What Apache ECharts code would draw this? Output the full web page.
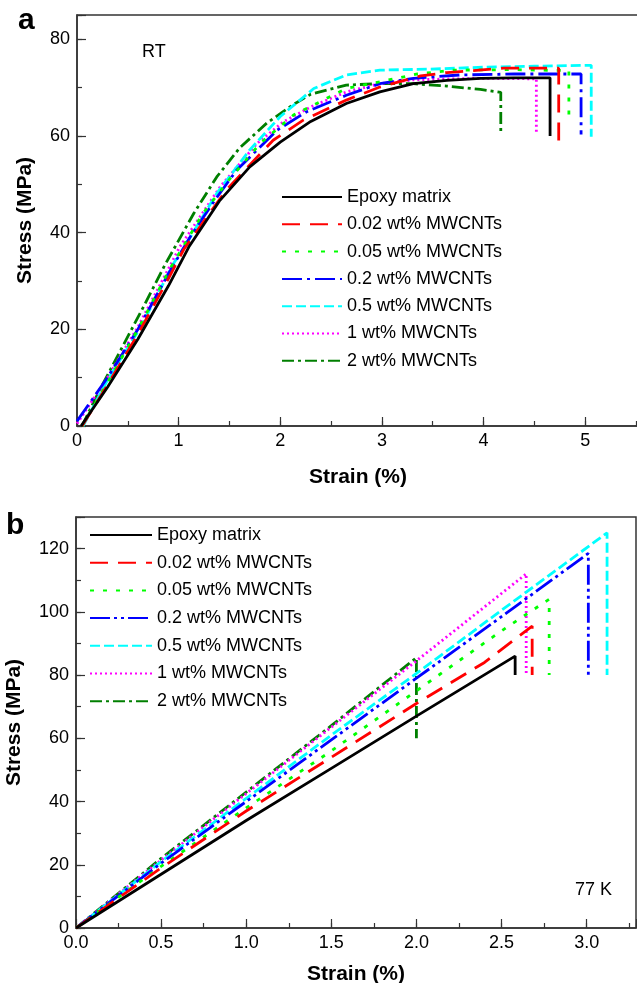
<!DOCTYPE html>
<html>
<head>
<meta charset="utf-8">
<script src="https://cdn.jsdelivr.net/npm/echarts@6/dist/echarts.min.js"></script>
<style>html,body{margin:0;padding:0;background:#fff}#c{width:637px;height:983px}</style>
</head>
<body>
<div id="c"></div>
<script>
// ---------- Data (strain %, stress MPa) ----------
const seriesNames = ['Epoxy matrix','0.02 wt% MWCNTs','0.05 wt% MWCNTs','0.2 wt% MWCNTs','0.5 wt% MWCNTs','1 wt% MWCNTs','2 wt% MWCNTs'];

// Panel a: room temperature
const rtEpoxy = [[0.04,0],[0.3,8],[0.6,18],[0.9,29],[1.1,37],[1.4,46.5],[1.7,53.6],[2.0,58.7],[2.3,63],[2.65,66.7],[2.98,69.1],[3.31,70.8],[3.64,71.5],[3.97,71.9],[4.3,72],[4.655,72],[4.655,60]];
const rt002 = [[0.05,0],[0.3,8.5],[0.6,19],[0.9,30.5],[1.05,36.5],[1.28,43.3],[1.47,48.8],[1.7,54],[1.93,59.1],[2.23,63.3],[2.65,67.4],[2.98,70.1],[3.38,72.4],[3.64,73.1],[4.2,74],[4.74,74],[4.74,58.4]];
const rt005 = [[0.05,0],[0.3,9],[0.6,20],[0.9,32],[1.24,44],[1.5,51],[1.8,58.4],[2.13,64.3],[2.65,69.8],[2.98,71.2],[3.35,72.8],[3.71,73.6],[4.3,73.7],[4.84,73.5],[4.84,62.6]];
const rt02 = [[0,1],[0.3,10],[0.6,20],[0.9,31.5],[1.11,39],[1.35,46.5],[1.57,52.9],[1.97,61.2],[2.26,65],[2.65,68.4],[2.98,70.8],[3.31,71.9],[3.77,72.6],[4.3,72.8],[4.96,72.8],[4.96,60.3]];
const rt05 = [[0.06,0],[0.3,9.5],[0.62,20.2],[0.95,33.6],[1.05,36.8],[1.375,48.1],[1.7,57.1],[2.0,64],[2.33,69.8],[2.65,72.6],[2.98,73.6],[3.47,73.8],[4.0,74.2],[4.5,74.4],[5.06,74.6],[5.06,59.8]];
const rt1 = [[0,0.5],[0.3,10],[0.6,20.5],[0.9,32.5],[1.01,37],[1.41,49.5],[1.77,58.4],[2.03,62.9],[2.3,66],[2.65,69.1],[2.98,70.8],[3.31,71.6],[3.97,71.9],[4.52,71.8],[4.52,60.8]];
const rt2 = [[0.05,0],[0.2,6.5],[0.4,14.5],[0.65,24.5],[0.87,33.5],[1.15,44],[1.375,51.5],[1.6,57.5],[1.87,62.7],[2.13,66.5],[2.3,68.6],[2.65,70.5],[2.98,70.8],[3.31,70.8],[3.64,70.3],[3.97,69.6],[4.17,69],[4.17,60.5]];

// Panel b: 77 K
const cEpoxy = [[0,0],[0.5,17],[1.0,34],[1.5,50.5],[2.0,67],[2.58,86],[2.58,80]];
const c002 = [[0,0],[0.5,19],[1.0,37],[1.5,54],[2.0,71],[2.4,84],[2.68,95.5],[2.68,80]];
const c005 = [[0,0],[0.5,19.5],[1.0,38],[1.5,56],[2.0,75],[2.5,94],[2.78,104],[2.78,80]];
const c02 = [[0,0],[0.5,20.5],[1.0,40],[1.5,59.5],[2.0,79],[2.5,98.5],[3.01,118.5],[3.01,80]];
const c05 = [[0,0],[0.5,21],[1.0,41],[1.5,61],[2.0,80.5],[2.5,100.5],[3.12,125],[3.12,80]];
const c1 = [[0,0],[0.5,21.5],[1.0,42.5],[1.5,63.5],[2.0,84.5],[2.645,112],[2.645,80]];
const c2 = [[0,0],[0.5,22],[1.0,43],[1.5,64],[2.0,85.5],[2.0,60]];

const rtData = [rtEpoxy, rt002, rt005, rt02, rt05, rt1, rt2];
const cryoData = [cEpoxy, c002, c005, c02, c05, c1, c2];

// Tick labels
const xTicksA = ['0','1','2','3','4','5'];
const yTicksA = [0,20,40,60,80];
const xTicksB = ['0.0','0.5','1.0','1.5','2.0','2.5','3.0'];
const yTicksB = [0,20,40,60,80,100,120];

// ---------- Styles ----------
const colors = ['#000000','#ff0000','#00ff00','#0000ff','#00ffff','#ff00ff','#007f00'];
const dashA = ['solid',[18,10],[4,9],[20,5,3,5],[10,4],[2,3],[12,4,3,4]];
const dashB = ['solid',[18,10],[4,9],[20,4,3,4,3,4],[10,4],[2,3],[12,4,3,4]];
const FONT = '"Liberation Sans", Arial, sans-serif';
const AX = '#333';

function mkSeries(dataArr, dashes, prefix, gi) {
  return dataArr.map((d, i) => ({
    name: prefix + seriesNames[i],
    type: 'line',
    xAxisIndex: gi * 2,
    yAxisIndex: gi * 2,
    data: d,
    showSymbol: false,
    symbol: 'none',
    animation: false,
    z: 10 - i,
    lineStyle: { color: colors[i], width: 2.8, type: dashes[i], cap: 'butt' },
    itemStyle: { color: colors[i] }
  }));
}

function mainX(gi, max, interval, ticks, name, nameGap) {
  return {
    gridIndex: gi, type: 'value', position: 'bottom', min: 0, max: max, interval: interval,
    axisLine: { show: true, lineStyle: { color: AX, width: 1.5 } },
    axisTick: { show: true, inside: true, length: 9, lineStyle: { color: AX, width: 1.2 } },
    axisLabel: { show: true, margin: 6, color: '#000', fontSize: 18, fontFamily: FONT,
      formatter: v => { const s = (gi === 1 ? v.toFixed(1) : String(Math.round(v))); return ticks.includes(s) && Math.abs(v - parseFloat(s)) < 1e-6 ? s : ''; } },
    splitLine: { show: false },
    name: name, nameLocation: 'middle', nameGap: nameGap,
    nameTextStyle: { fontSize: 21, fontWeight: 'bold', fontFamily: FONT, color: '#000' }
  };
}
function minorX(gi, max, interval) {
  return {
    gridIndex: gi, type: 'value', position: 'bottom', min: 0, max: max, interval: interval,
    axisLine: { show: false }, axisLabel: { show: false }, splitLine: { show: false },
    axisTick: { show: true, inside: true, length: 5, lineStyle: { color: AX, width: 1.2 } }
  };
}
function mainY(gi, max, interval, ticks, name, nameGap) {
  return {
    gridIndex: gi, type: 'value', position: 'left', min: 0, max: max, interval: interval,
    axisLine: { show: true, lineStyle: { color: AX, width: 1.5 } },
    axisTick: { show: true, inside: true, length: 9, lineStyle: { color: AX, width: 1.2 } },
    axisLabel: { show: true, margin: 7, color: '#000', fontSize: 18, fontFamily: FONT,
      formatter: v => ticks.includes(v) ? String(v) : '' },
    splitLine: { show: false },
    name: name, nameLocation: 'middle', nameGap: nameGap,
    nameTextStyle: { fontSize: 21, fontWeight: 'bold', fontFamily: FONT, color: '#000' }
  };
}
function minorY(gi, max, interval) {
  return {
    gridIndex: gi, type: 'value', position: 'left', min: 0, max: max, interval: interval,
    axisLine: { show: false }, axisLabel: { show: false }, splitLine: { show: false },
    axisTick: { show: true, inside: true, length: 5, lineStyle: { color: AX, width: 1.2 } }
  };
}

function mkLegend(prefix, left, top, width, gap) {
  return {
    show: true, left: left, top: top, orient: 'vertical', padding: 0,
    data: seriesNames.map(n => prefix + n),
    formatter: n => n.slice(prefix.length),
    itemWidth: width, itemHeight: 14, itemGap: gap,
    selectedMode: false,
    itemStyle: { opacity: 0, color: 'transparent', borderColor: 'transparent', borderWidth: 0 },
    textStyle: { fontSize: 18, fontFamily: FONT, color: '#000' }
  };
}

const chart = echarts.init(document.getElementById('c'), null, { renderer: 'canvas' });
chart.setOption({
  animation: false,
  backgroundColor: '#fff',
  grid: [
    { left: 77, top: 15, right: -2, bottom: 557, show: true, borderColor: AX, borderWidth: 1.5, backgroundColor: 'transparent', outerBoundsMode: 'none', containLabel: false },
    { left: 76, top: 517, right: 1, bottom: 55, show: true, borderColor: AX, borderWidth: 1.5, backgroundColor: 'transparent', outerBoundsMode: 'none', containLabel: false }
  ],
  xAxis: [
    mainX(0, 5.53, 1, xTicksA, 'Strain (%)', 41),
    minorX(0, 5.53, 0.5),
    mainX(1, 3.29, 0.5, xTicksB, 'Strain (%)', 36),
    minorX(1, 3.29, 0.25)
  ],
  yAxis: [
    mainY(0, 85, 20, yTicksA, 'Stress (MPa)', 41),
    minorY(0, 85, 10),
    mainY(1, 130, 20, yTicksB, 'Stress (MPa)', 51),
    minorY(1, 130, 10)
  ],
  legend: [
    mkLegend('a:', 281, 188, 60, 9.3),
    mkLegend('b:', 89, 526, 62, 9.7)
  ],
  series: [].concat(mkSeries(rtData, dashA, 'a:', 0), mkSeries(cryoData, dashB, 'b:', 1)),
  graphic: [
    { type: 'text', left: 18, top: 6, style: { text: 'a', font: 'bold 30px ' + FONT, fill: '#000' } },
    { type: 'text', left: 6, top: 511, style: { text: 'b', font: 'bold 30px ' + FONT, fill: '#000' } },
    { type: 'text', left: 142, top: 43, style: { text: 'RT', font: '18px ' + FONT, fill: '#000' } },
    { type: 'text', left: 575, top: 881, style: { text: '77 K', font: '18px ' + FONT, fill: '#000' } }
  ]
});
</script>
</body>
</html>
